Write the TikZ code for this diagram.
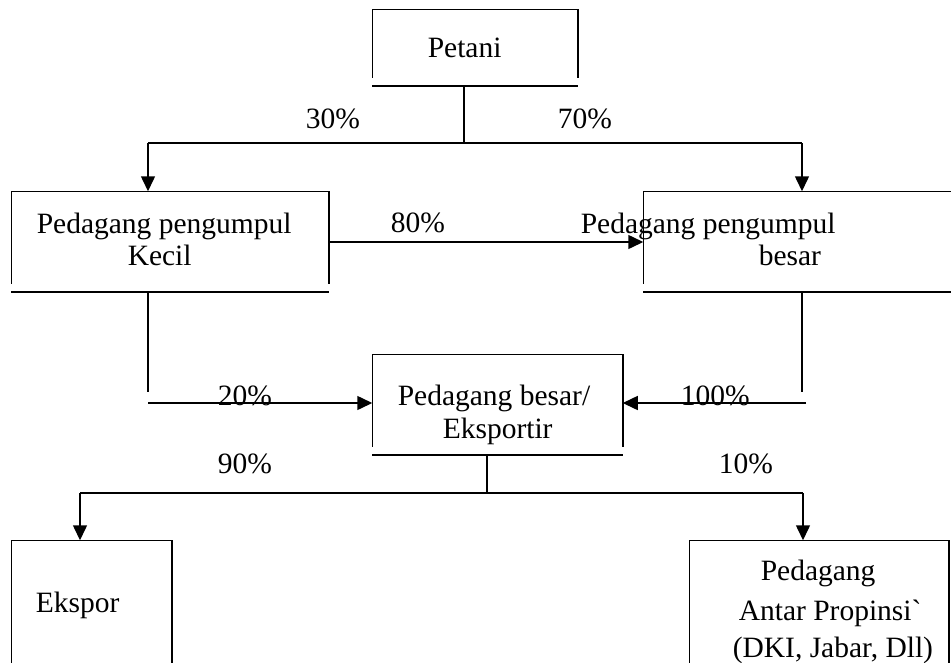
\documentclass[tikz,border=0pt]{standalone}
\usepackage{fontspec}
\setmainfont{Liberation Serif}
\usetikzlibrary{arrows.meta}
\newcommand\openbox[2]{%
  \draw (#1.south west) |- (#1.north east) -- (#1.south east);
  \draw ([yshift=-#2]#1.south west) -- ([yshift=-#2]#1.south east);}
\newcommand\openboxnb[1]{%
  \draw (#1.south west) |- (#1.north east) -- (#1.south east);}
\begin{document}
\begin{tikzpicture}[x=1pt,y=-1pt,line width=1.5pt,
  lbl/.style={anchor=base west,inner sep=0pt,font=\fontsize{29.5}{33}\selectfont},
  boxn/.style={inner sep=0pt,draw=none},
  arr/.style={-{Triangle[length=15pt,width=14pt]}}]
\useasboundingbox (0,0) rectangle (951,662);
\clip (0,0) rectangle (951,662);
% boxes
\node[boxn,minimum width=204pt,minimum height=67pt] (petani) at (475,43.5) {};
\node[boxn,minimum width=316pt,minimum height=91pt] (kecil) at (170,237.5) {};
\node[boxn,minimum width=316pt,minimum height=91pt] (besar) at (802,237.5) {};
\node[boxn,minimum width=249pt,minimum height=91pt] (eksportir) at (497.5,400.5) {};
\node[boxn,minimum width=159pt,minimum height=159pt] (ekspor) at (91.5,620.5) {};
\node[boxn,minimum width=258pt,minimum height=159pt] (antar) at (819,620.5) {};
\openbox{petani}{8pt}
\openbox{kecil}{8pt}
\openbox{besar}{8pt}
\openbox{eksportir}{8pt}
\openboxnb{ekspor}
\openboxnb{antar}
% texts
\node[lbl] (tpetani) at (427,57) {Petani};
\node[lbl] (tkecil1) at (36,233) {Pedagang pengumpul};
\node[lbl] (tkecil2) at (127,265) {Kecil};
\node[lbl] (tbesar1) at (580,233) {Pedagang pengumpul};
\node[lbl] (tbesar2) at (758,265) {besar};
\node[lbl] (teks1) at (397,405) {Pedagang besar/};
\node[lbl] (teks2) at (442,438) {Eksportir};
\node[lbl] (tekspor) at (35,612) {Ekspor};
\node[lbl] (tantar1) at (760,580) {Pedagang};
\node[lbl] (tantar2) at (738,620) {Antar Propinsi\textasciigrave};
\node[lbl] (tantar3) at (732,657) {(DKI, Jabar, Dll)};
% percent labels
\node[lbl] (p30) at (305,128) {30\%};
\node[lbl] (p70) at (557,128) {70\%};
\node[lbl] (p80) at (390,232) {80\%};
\node[lbl] (p20) at (217,405) {20\%};
\node[lbl] (p100) at (680,405) {100\%};
\node[lbl] (p90) at (217,473) {90\%};
\node[lbl] (p10) at (718,473) {10\%};
% connectors from Petani
\coordinate (pS) at (464,143);
\coordinate (aL) at (148,143);
\coordinate (aR) at (802,143);
\draw (pS |- petani.south) ++(0,8) -- (pS);
\draw (aL) -- (aR);
\draw[arr] (aL) -- (aL |- kecil.north);
\draw[arr] (aR) -- (aR |- besar.north);
% 80%
\coordinate (m80) at (0,242);
\draw[arr] (kecil.east |- m80) -- (besar.west |- m80);
% to Eksportir
\coordinate (kS) at (148,392);
\coordinate (kH) at (148,403);
\draw (kS |- kecil.south) ++(0,8) -- (kS);
\draw[arr] (kH) -- (kH -| eksportir.west);
\coordinate (bS) at (802,392);
\coordinate (bH) at (806,403);
\draw (bS |- besar.south) ++(0,8) -- (bS);
\draw[arr] (bH) -- (bH -| eksportir.east);
% from Eksportir
\coordinate (eS) at (487,493);
\coordinate (cL) at (80,493);
\coordinate (cR) at (803,493);
\draw (eS |- eksportir.south) ++(0,8) -- (eS);
\draw (cL) -- (cR);
\draw[arr] (cL) -- (cL |- ekspor.north);
\draw[arr] (cR) -- (cR |- antar.north);
\end{tikzpicture}
\end{document}
